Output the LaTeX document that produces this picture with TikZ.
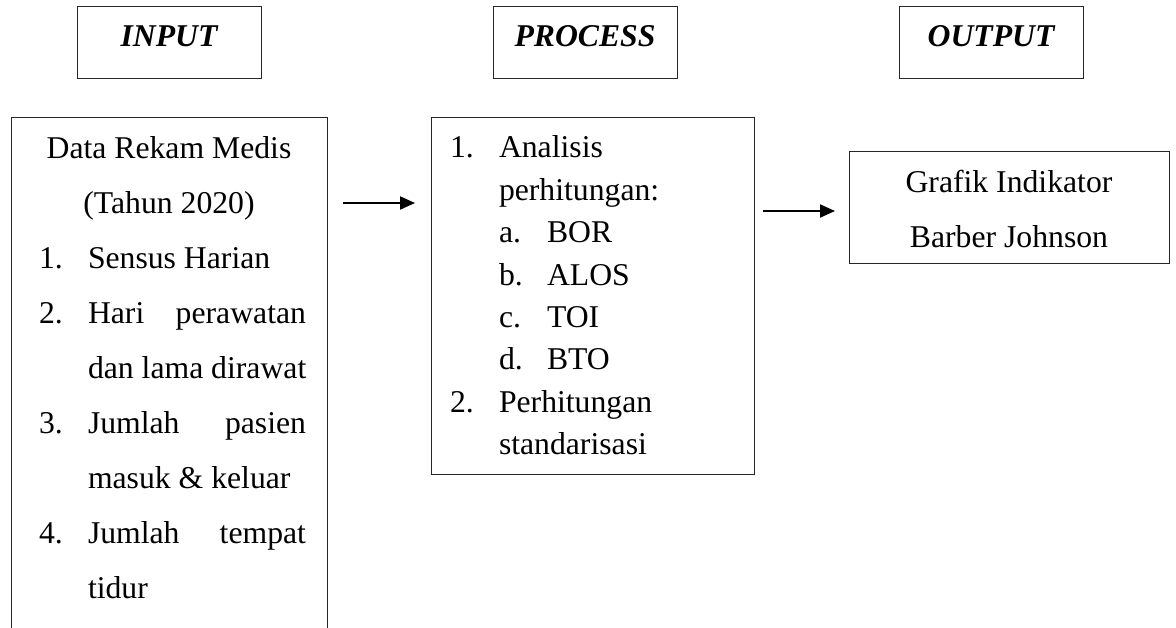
\documentclass[tikz,border=0pt]{standalone}
\usepackage{fontspec}
\setmainfont{Liberation Serif}
\usetikzlibrary{arrows.meta}
\begin{document}
\begin{tikzpicture}[x=1pt,y=-1pt,
  every node/.style={font=\fontsize{31.7pt}{38pt}\selectfont, inner sep=0pt, outer sep=0pt},
  boxline/.style={draw=black!85, line width=1pt},
  headbox/.style={boxline, minimum width=184pt, minimum height=72pt, anchor=north west},
  headtxt/.style={anchor=base, font=\fontsize{31.7pt}{38pt}\selectfont\bfseries\itshape},
  txt/.style={anchor=base west},
  ctxt/.style={anchor=base},
  flow/.style={line width=2pt, -{Triangle[length=15pt,width=13pt]}}]
\useasboundingbox (0,0) rectangle (1176,628);
\clip (0,0) rectangle (1176,628);

% header boxes
\node[headbox] (hin) at (77,7) {};
\node[headbox] (hproc) at (493,7) {};
\node[headbox] (hout) at (899,7) {};
\node[headtxt] (tin) at (169,46.5) {INPUT};
\node[headtxt] (tproc) at (585,46.5) {PROCESS};
\node[headtxt] (tout) at (991,46.5) {OUTPUT};

% main boxes
\node[boxline, anchor=north west, minimum width=316pt, minimum height=540pt] (inbox) at (11,118) {};
\node[boxline, anchor=north west, minimum width=323pt, minimum height=356pt] (procbox) at (431,118) {};
\node[boxline, anchor=north west, minimum width=320pt, minimum height=112pt] (outbox) at (849,152) {};

% input text
\node[ctxt] (i0) at (169,159) {Data Rekam Medis};
\node[ctxt] (i1) at (169,213.9) {(Tahun 2020)};
\node[txt] (n1) at (39,268.8) {1.};
\node[txt] (i2) at (88,268.8) {Sensus Harian};
\node[txt] (n2) at (39,323.7) {2.};
\node[txt] (i3) at (88,323.7) {\hbox to 218pt{Hari\hfill perawatan}};
\node[txt] (i4) at (88,378.6) {dan lama dirawat};
\node[txt] (n3) at (39,433.5) {3.};
\node[txt] (i5) at (88,433.5) {\hbox to 218pt{Jumlah\hfill pasien}};
\node[txt] (i6) at (88,488.4) {masuk \& keluar};
\node[txt] (n4) at (39,543.3) {4.};
\node[txt] (i7) at (88,543.3) {\hbox to 218pt{Jumlah\hfill tempat}};
\node[txt] (i8) at (88,598.2) {tidur};

% process text
\node[txt] (pn1) at (450,158) {1.};
\node[txt] (p1) at (499,158) {Analisis};
\node[txt] (p2) at (499,200.4) {perhitungan:};
\node[txt] (pa) at (499,242.8) {a.};
\node[txt] (pa1) at (547,242.8) {BOR};
\node[txt] (pb) at (499,285.2) {b.};
\node[txt] (pb1) at (547,285.2) {ALOS};
\node[txt] (pc) at (499,327.6) {c.};
\node[txt] (pc1) at (547,327.6) {TOI};
\node[txt] (pd) at (499,370) {d.};
\node[txt] (pd1) at (547,370) {BTO};
\node[txt] (pn2) at (450,412.4) {2.};
\node[txt] (p3) at (499,412.4) {Perhitungan};
\node[txt] (p4) at (499,454.8) {standarisasi};

% output text
\node[ctxt] (o1) at (1009,193) {Grafik Indikator};
\node[ctxt] (o2) at (1009,248) {Barber Johnson};

% arrows
\coordinate (a1s) at (343,203);
\coordinate (a1e) at (415,203);
\coordinate (a2s) at (763,211);
\coordinate (a2e) at (835,211);
\draw[flow] (a1s) -- (a1e);
\draw[flow] (a2s) -- (a2e);
\end{tikzpicture}
\end{document}
